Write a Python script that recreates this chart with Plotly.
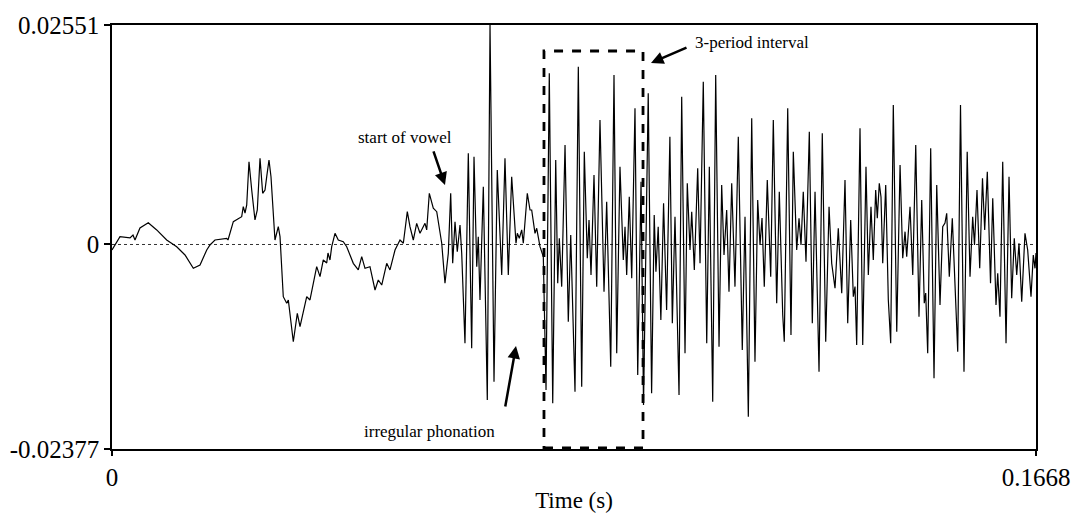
import plotly.graph_objects as go

# Waveform: time in milliseconds, amplitude in units of 1e-3
time_ms = [
    0.00, 1.44, 3.25, 3.79, 4.15, 5.05, 6.55, 8.07, 9.87, 11.68, 13.18, 14.68, 15.89, 17.10,
    17.69, 18.59, 20.71, 20.94, 21.90, 23.41, 23.70, 24.01, 24.32, 24.73, 25.22, 25.81, 26.23,
    26.72, 27.20, 27.62, 27.93, 28.34, 28.70, 29.42, 30.02, 30.33, 30.92, 31.54, 31.83, 32.73,
    33.45, 33.94, 35.15, 35.74, 36.95, 37.55, 38.14, 38.76, 38.99, 39.35, 39.66, 40.26, 40.85,
    41.75, 42.37, 43.56, 44.46, 45.08, 45.67, 46.57, 47.48, 48.07, 48.69, 49.59, 50.18, 51.09,
    51.99, 52.59, 53.31, 53.79, 54.39, 55.00, 55.60, 56.50, 56.81, 57.28, 58.00, 58.62, 59.52,
    60.11, 60.71, 61.14, 61.50, 61.92, 62.33, 62.82, 63.13, 63.72, 64.32, 64.93, 65.35, 65.84,
    66.12, 66.43, 67.03, 67.75, 68.24, 68.96, 69.55, 70.35, 70.94, 71.54, 72.15, 72.93, 73.17,
    73.53, 73.96, 74.25, 74.97, 75.46, 75.76, 76.36, 76.67, 77.26, 77.86, 78.35, 78.94, 79.56,
    80.10, 80.46, 80.75, 81.18, 81.78, 82.37, 82.81, 83.58, 84.18, 84.79, 85.26, 85.80, 86.11,
    86.47, 87.01, 87.50, 88.09, 88.82, 89.30, 90.03, 90.62, 91.11, 91.70, 92.30, 92.61, 92.91,
    93.38, 93.82, 94.41, 94.90, 95.50, 95.95, 96.80, 97.41, 97.88, 98.19, 98.60, 99.08, 99.57,
    100.12, 100.71, 101.15, 101.63, 102.36, 102.84, 103.44, 103.85, 104.34, 104.65, 105.12,
    105.73, 106.15, 106.74, 107.36, 107.83, 108.44, 108.98, 109.58, 110.06, 110.48, 110.96,
    111.38, 111.87, 112.46, 113.06, 113.78, 114.27, 114.87, 115.48, 116.07, 116.56, 116.98,
    117.34, 117.75, 118.29, 118.91, 119.38, 119.99, 120.46, 121.08, 121.36, 121.98, 122.57,
    122.99, 123.60, 124.02, 124.38, 124.79, 125.28, 125.88, 126.42, 126.91, 127.63, 128.22,
    128.84, 129.44, 129.92, 130.52, 131.11, 131.73, 132.32, 132.81, 133.35, 133.82, 134.13,
    134.43, 135.03, 135.52, 136.11, 136.53, 137.01, 137.43, 137.86, 138.15, 138.51, 138.82,
    139.13, 139.67, 140.14, 140.57, 141.04, 141.66, 142.26, 142.74, 143.16, 143.46, 144.06,
    144.55, 145.09, 145.68, 146.17, 146.63, 146.89, 147.25, 147.79, 148.39, 148.88, 149.47,
    149.96, 150.37, 150.68, 151.15, 151.69, 152.18, 152.67, 153.17, 153.80, 154.38, 154.89,
    155.37, 155.70, 156.15, 156.64, 157.14, 157.54, 158.01, 158.59, 158.99, 159.58, 159.89,
    160.30, 160.79, 161.39, 161.93, 162.41, 162.88, 163.32, 163.73, 164.22, 164.81, 165.30,
    165.90, 166.31, 166.62, 166.80,
]
amp_milli = [
    -0.64, 0.91, 0.76, 1.10, 0.52, 1.92, 2.53, 1.69, 0.52, -0.26, -1.22, -2.77, -2.38, -0.64,
    -0.06, 0.52, 0.72, 0.52, 2.65, 3.23, 4.39, 3.66, 4.59, 9.62, 6.33, 2.85, 4.01,
    10.02, 5.95, 6.33, 7.88, 9.82, 7.88, 0.52, 2.07, 0.91, -6.07, -6.83, -6.45, -11.30,
    -8.00, -9.55, -6.07, -6.45, -2.58, -3.74, -1.80, -2.15, -0.99, -1.80, -0.26, 1.30, 0.52,
    0.33, -0.26, -2.19, -2.96, -1.42, -2.77, -2.58, -5.29, -4.13, -4.71, -2.19, -2.96, -0.64,
    0.52, 0.14, 3.81, 2.07, 0.52, 2.46, 1.30, 2.46, 1.69, 5.95, 4.21, 3.81, 0.14,
    -4.51, -1.02, 5.95, -2.19, 2.65, -0.84, 2.27, -1.02, -11.48, 10.60, -12.06, 10.21, -2.58,
    0.91, -6.45, 6.72, -18.07, 25.51, -15.95, 8.66, -3.55, 10.02, -3.55, 7.88, 0.14, 1.30,
    0.72, 1.69, 0.14, 5.95, 4.01, 4.01, 1.30, 1.88, -0.26, -1.42, -16.91, 19.90, -18.46,
    9.82, -4.51, 0.72, -4.90, 11.56, -8.97, 1.10, -17.11, 20.67, -16.53, 10.79, -1.60, 2.85,
    -3.55, 8.08, -4.90, 14.47, -5.49, 4.97, -14.20, 19.70, -12.65, 9.04, -1.80, 2.07, -3.55,
    5.56, -3.93, 15.83, -15.17, 7.30, -18.65, 17.57, -17.29, 3.43, -3.16, 2.07, -8.78, 4.79,
    -7.61, 12.53, -9.16, 3.23, -17.49, 17.18, -12.65, 7.11, -0.64, 3.81, -2.96,
    8.86, -2.19, 18.92, -11.48, 9.04, -18.27, 19.70, -11.88, 6.92, -1.22, 4.01,
    -5.49, 7.11, -4.90, 12.53, -12.26, 3.23, -20.01, 14.67, -13.62, 5.17, -0.06,
    3.08, -4.90, 7.50, -3.74, 14.47, -6.83, 6.14, -8.19, -11.30, 15.83, -10.52,
    10.79, -0.64, 3.05, -0.06, 6.14, -2.00, 13.11, -9.16, 6.14, -14.78, 12.92,
    -11.30, 4.39, -2.19, -5.09, 1.88, -5.67, 7.50, -9.16, 2.85, -6.07, -4.90,
    -11.68, 13.51, -11.68, 9.04, -3.55, 4.39, -1.80, 6.33, 3.05, 7.11, 5.52,
    -2.19, 6.92, -6.45, -11.48, 16.21, -10.14, 9.24, -1.60, 1.49, -1.42, 4.39,
    -3.55, 11.56, -8.39, 5.17, -6.83, -5.64, -12.65, 11.18, -15.55, 6.92, -7.03,
    2.07, 2.50, 3.63, -3.74, 3.05, -4.51, -12.46, 16.21, -14.78, 10.79, -3.74,
    3.23, -0.06, 6.33, -2.77, 7.69, 1.69, 8.46, -4.51, 5.37, -7.03, -3.35,
    -8.39, 9.62, -11.48, 7.88, -6.25, 0.72, -3.55, 0.14, -6.65, 1.30, -0.64,
    -6.07, -1.22, -2.77, -0.99,
]

x_ticks = [0.0, 0.1668]
x_ticklabels = ["0", "0.1668"]
y_ticks = [-0.02377, 0.0, 0.02551]
y_ticklabels = ["-0.02377", "0", "0.02551"]

t_s = [v / 1000.0 for v in time_ms]
amp = [v / 1000.0 for v in amp_milli]

FONT = "Liberation Serif, Times New Roman, serif"

fig = go.Figure()
fig.add_trace(go.Scatter(x=t_s, y=amp, mode="lines",
                         line=dict(color="black", width=1.2), hoverinfo="skip",
                         showlegend=False))

# zero reference line (dotted)
fig.add_shape(type="line", xref="paper", yref="y", x0=0, x1=1, y0=0, y1=0,
              line=dict(color="#333333", width=1, dash="dot"), layer="below")

# dashed box marking the 3-period interval
fig.add_shape(type="rect", xref="x", yref="y", x0=0.07798, x1=0.09586,
              y0=-0.02365, y1=0.02249, line=dict(color="black", width=2.8, dash="dash"))

ann_font = dict(family=FONT, size=17, color="black")
# texts
fig.add_annotation(xref="paper", yref="paper", x=0.3171, y=0.7358, text="start of vowel",
                   showarrow=False, font=ann_font, xanchor="center", yanchor="middle")
fig.add_annotation(xref="paper", yref="paper", x=0.6288, y=0.958, text="3-period interval",
                   showarrow=False, font=ann_font, xanchor="left", yanchor="middle")
fig.add_annotation(xref="paper", yref="paper", x=0.3431, y=0.0401, text="irregular phonation",
                   showarrow=False, font=ann_font, xanchor="center", yanchor="middle")
# arrows
arrow = dict(showarrow=True, arrowhead=2, arrowsize=1, arrowwidth=2.5, arrowcolor="black",
             text="", xref="x", yref="y")
fig.add_annotation(x=0.06011, y=0.00692, ax=-12, ay=-35, **arrow)
fig.add_annotation(x=0.09730, y=0.02110, ax=37, ay=-16, **arrow)
fig.add_annotation(x=0.07293, y=-0.01180, ax=-11, ay=62, **arrow)

fig.update_layout(
    width=1075, height=519,
    margin=dict(l=112, r=39, t=25, b=70, autoexpand=False),
    paper_bgcolor="white", plot_bgcolor="white",
    font=dict(family=FONT, size=24, color="black"),
    showlegend=False,
)
fig.update_xaxes(range=[0, 0.1668], tickvals=x_ticks, ticktext=x_ticklabels,
                 automargin=False,
                 showgrid=False, zeroline=False, showline=True, linecolor="black",
                 linewidth=1.5, mirror=True, ticks="outside", ticklen=5, tickwidth=1.5,
                 tickcolor="black", tickfont=dict(family=FONT, size=25),
                 title=dict(text="Time (s)", font=dict(family=FONT, size=23), standoff=2))
fig.update_yaxes(range=[-0.02377, 0.02551], tickvals=y_ticks, ticktext=y_ticklabels,
                 automargin=False,
                 showgrid=False, zeroline=False, showline=True, linecolor="black",
                 linewidth=1.5, mirror=True, ticks="outside", ticklen=6, tickwidth=1.5,
                 tickcolor="black", tickfont=dict(family=FONT, size=25))

fig.write_html("out.html", config={"displayModeBar": False},
               post_script="document.body.style.margin='0';document.body.style.overflow='hidden';")
